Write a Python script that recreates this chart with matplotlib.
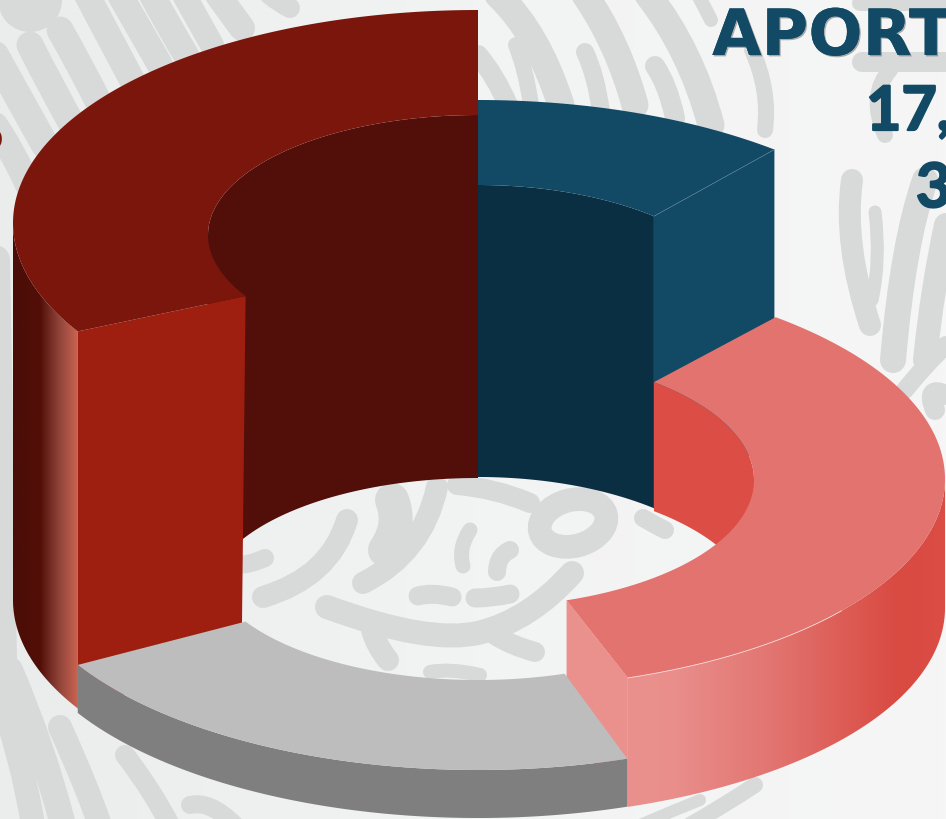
"""3D style doughnut with stepped slices, drawn with plain patches."""

import numpy as np
import matplotlib
matplotlib.use("Agg")
import matplotlib.pyplot as plt
from matplotlib.colors import LinearSegmentedColormap
from matplotlib.patches import Circle, Ellipse, PathPatch, Polygon
from matplotlib.path import Path
import matplotlib.patheffects as pe

# slice shares in %, clockwise from 12 o'clock
slice_names = ["azul", "rosa", "gris", "rojo"]
slice_shares = [11.0, 33.8, 21.7, 33.5]

# decorative watermark behind the chart: (width, points)
watermark = [
    # top left stripes
    (27, [(60, 30), (80, 65), (100, 105)]),
    (27, [(30, 45), (50, 85), (78, 135)]),
    (26, [(87, -5), (108, 35), (132, 80)]),
    (26, [(120, -5), (140, 30), (160, 65)]),
    (26, [(152, -5), (168, 25), (186, 55)]),
    (24, [(184, -5), (198, 20), (212, 45)]),
    (26, [(218, -5), (230, 12), (242, 28)]),
    (28, [(-5, 55), (20, 100), (45, 145)]),
    (26, [(-5, 125), (12, 150), (28, 185)]),
    (20, [(270, -5), (280, 3), (290, 8)]),
    # top middle
    (27, [(498, -5), (538, 33), (561, 105)]),
    (27, [(585, -5), (618, 43), (635, 105)]),
    (27, [(648, -5), (691, 50), (711, 125)]),
    (16, [(516, 45), (526, 70), (531, 105)]),
    (18, [(585, 52), (596, 75), (601, 112)]),
    (20, [(655, 66), (668, 85), (675, 118)]),
    (20, [(478, 55), (495, 75), (508, 105)]),
    (14, [(698, -5), (705, 8), (711, 20)]),
    (16, [(752, 50), (770, 90), (765, 130)]),
    # top right
    (20, [(862, 62), (900, 62), (946, 62)]),
    (16, [(860, 3), (900, 3), (946, 3)]),
    (16, [(890, 70), (868, 95), (885, 135)]),
    (22, [(852, 180), (843, 243), (870, 325)]),
    (13, [(875, 212), (881, 260), (872, 300)]),
    (26, [(925, 180), (903, 243), (893, 360)]),
    (24, [(946, 225), (932, 290), (925, 360)]),
    (18, [(946, 345), (925, 365), (905, 390)]),
    (20, [(946, 395), (925, 385), (935, 410)]),
    # left strip and bottom left
    (30, [(-5, 260), (-2, 420), (2, 660)]),
    (26, [(10, 670), (43, 747), (63, 825)]),
    (24, [(60, 727), (87, 787), (100, 825)]),
    (24, [(-5, 680), (23, 760), (33, 825)]),
    (20, [(125, 755), (152, 790), (170, 825)]),
    (18, [(190, 805), (210, 800), (235, 825)]),
    # bottom right
    (16, [(690, 825), (725, 805), (755, 785)]),
    (12, [(640, 825), (670, 812), (700, 800)]),
    # inside the hole
    (22, [(347, 520), (330, 577), (263, 597)]),
    (34, [(392, 500), (402, 525), (385, 550)]),
    (22, [(437, 487), (423, 553), (363, 583)]),
    (15, [(470, 530), (458, 548), (463, 566)]),
    (18, [(510, 550), (497, 556), (497, 572)]),
    (19, [(418, 596), (432, 592), (452, 597)]),
    (19, [(475, 598), (492, 598), (510, 594)]),
    (24, [(327, 607), (430, 645), (530, 620), (572, 573)]),
    (22, [(372, 630), (376, 645), (388, 660)]),
    (20, [(495, 635), (510, 645), (535, 652)]),
    (20, [(457, 485), (495, 488), (530, 503)]),
    (18, [(643, 518), (655, 525), (665, 530)]),
    (18, [(236, 565), (250, 565), (265, 558)]),
    (14, [(430, 672), (450, 668), (480, 675)]),
]
ring_center = (573, 523)
corner_disc = (30, 0, 32)

CX = 478
FIG_W, FIG_H = 946, 819


def smooth_path(points):
    """Quadratic curve through the midpoints of the given points."""
    pts = np.array(points, dtype=float)
    verts = [pts[0]]
    codes = [Path.MOVETO]
    for i in range(1, len(pts) - 1):
        end = pts[-1] if i == len(pts) - 2 else (pts[i] + pts[i + 1]) / 2
        verts += [pts[i], end]
        codes += [Path.CURVE3, Path.CURVE3]
    return Path(verts, codes)


def arc(t0, t1, rx, ry, cy, dy=0.0, n=120):
    t = np.radians(np.linspace(t0, t1, n))
    return np.column_stack([CX + rx * np.cos(t), cy - ry * np.sin(t) + dy])


def point(t, rx, ry, cy):
    return arc(t, t, rx, ry, cy, n=1)[0]


def gradient_fill(ax, poly, x0, x1, stops, zorder):
    cmap = LinearSegmentedColormap.from_list("g", stops)
    grad = np.linspace(0, 1, 256).reshape(1, -1)
    patch = Polygon(poly, closed=True, fc="none", ec="none", zorder=zorder)
    ax.add_patch(patch)
    im = ax.imshow(grad, cmap=cmap, extent=(x0, x1, FIG_H, 0), aspect="auto", zorder=zorder)
    im.set_clip_path(patch)


# slice angles come straight from the shares
edges = 90 - np.cumsum([0] + slice_shares) * 3.6
angles = {name: (edges[i], edges[i + 1]) for i, name in enumerate(slice_names)}

# look of each slice: outer/inner ellipse, height of the walls
blue = dict(rx=465, ry=216, cy=316, irx=276, iry=136, icy=321, h=292)
pink = dict(rx=467, ry=210, cy=479, irx=276, iry=127, icy=480, h=129)
gray = dict(rx=465, ry=214, cy=556, irx=270, iry=119, icy=561, h=48)
red = dict(rx=465, ry=213, cy=223, irx=270, iry=120, icy=235, h=363, oh=377)

fig = plt.figure(figsize=(FIG_W / 100, FIG_H / 100), dpi=100, facecolor="#F2F3F3")
ax = fig.add_axes([0, 0, 1, 1])
ax.axis("off")

# paper
paper = [(0, FIG_H), (FIG_W, FIG_H), (FIG_W, 0), (0, 0)]
gradient_fill(ax, paper, 0, FIG_W, [(0, "#EBECEC"), (0.5, "#F2F3F3"), (1, "#F6F6F6")], 0)

# watermark
pat = "#D8D9D9"
for width, pts in watermark:
    ax.add_patch(PathPatch(smooth_path(pts), fc="none", ec=pat, lw=width * 0.72,
                           capstyle="round", joinstyle="round", zorder=1))
ax.add_patch(Ellipse(ring_center, 68, 46, angle=-15, fc="none", ec=pat, lw=17, zorder=1))
ax.add_patch(Circle(corner_disc[:2], corner_disc[2], fc=pat, ec="none", zorder=1))

# title fragments, cut off by the crop
navy = "#124A66"
shadow = [pe.withSimplePatchShadow(offset=(1, -1), shadow_rgbFace="k", alpha=0.3), pe.Normal()]
ax.text(712, 55, "APORT", color=navy, fontsize=46, family="DejaVu Sans", weight="bold",
        ha="left", va="baseline", path_effects=shadow, zorder=2)
heavy = [pe.Stroke(linewidth=1.6, foreground=navy), pe.Normal()]
for txt, x, y in [("17,", 866, 130), ("3", 916, 207)]:
    ax.text(x, y, txt, color=navy, fontsize=44, family="Lato", weight="bold",
            ha="left", va="baseline", path_effects=heavy, zorder=2)
ax.text(3, 148, "%", color="#7A160C", fontsize=40, family="DejaVu Sans", weight="bold",
        ha="right", va="baseline", zorder=2)

# blue slice
a0, a1 = angles["azul"]
p = blue
top_in = arc(a1, a0, p["irx"], p["iry"], p["icy"])
top_out = arc(a0, a1, p["rx"], p["ry"], p["cy"])
ax.add_patch(Polygon(np.vstack([top_in, arc(a0, a1, p["irx"], p["iry"], p["icy"], p["h"])]),
                     fc="#0B2F42", ec="none", zorder=3))
end_in = top_in[0]
end_out = top_out[-1]
ax.add_patch(Polygon([end_in, end_out, end_out + [0, p["h"]], end_in + [0, p["h"]]],
                     fc=navy, ec="none", zorder=3))
ax.add_patch(Polygon(np.vstack([top_out, top_in]), fc=navy, ec="none", zorder=4))
ax.plot([end_in[0], end_out[0]], [end_in[1], end_out[1]], color="#5B8296", lw=0.4, zorder=4)

# red slice
a0, a1 = angles["rojo"]
p = red
top_out = arc(a0, a1, p["rx"], p["ry"], p["cy"])
top_in = arc(a1, a0, p["irx"], p["iry"], p["icy"])
back_top = arc(a1, -180, p["irx"], p["iry"], p["icy"])
back_low = arc(-180, a1, p["irx"], p["iry"], p["icy"], p["h"])
ax.add_patch(Polygon(np.vstack([back_top, back_low]), fc="#520F0A", ec="none", zorder=5))
front = arc(a0, -180, p["rx"], p["ry"], p["cy"])
wall = np.vstack([front, (front + [0, p["oh"]])[::-1]])
gradient_fill(ax, wall, front[-1, 0], front[0, 0],
              [(0, "#4A0D07"), (0.42, "#520F07"), (0.7, "#8E4238"), (1, "#CB6453")], 5)
in_cut = point(a0, p["irx"], p["iry"], p["icy"])
out_cut = point(a0, p["rx"], p["ry"], p["cy"])
ax.add_patch(Polygon([in_cut, out_cut, out_cut + [0, p["oh"]], in_cut + [-4, p["h"]]],
                     fc="#9E1F10", ec="none", zorder=6))
ax.add_patch(Polygon(np.vstack([top_out, top_in]), fc="#7A160C", ec="none", zorder=7))

# pink slice, its end face sits behind the gray slice
a0, a1 = angles["rosa"]
p = pink
top_out = arc(a0, a1, p["rx"], p["ry"], p["cy"])
top_in = arc(a1, a0, p["irx"], p["iry"], p["icy"])
back_top = arc(a0, 0, p["irx"], p["iry"], p["icy"])
back_low = arc(0, a0, p["irx"], p["iry"], p["icy"], p["h"])
ax.add_patch(Polygon(np.vstack([back_top, back_low]), fc="#DB4D45", ec="none", zorder=7.5))
cut_in = top_in[0]
cut_out = top_out[-1]
ax.add_patch(Polygon([cut_in, cut_out, cut_out + [0, p["h"]], cut_in + [0, p["h"]]],
                     fc="#EA918E", ec="none", zorder=7.5))
front = arc(a1, 0, p["rx"], p["ry"], p["cy"])
wall = np.vstack([front, (front + [0, p["h"]])[::-1]])
gradient_fill(ax, wall, front[0, 0], front[-1, 0],
              [(0, "#EA918E"), (0.15, "#E98E8B"), (0.45, "#E27571"), (0.85, "#D94A41"), (1, "#DB4D45")], 11)
ax.add_patch(Polygon(np.vstack([top_out, top_in]), fc="#E2736E", ec="none", zorder=12))
ax.plot(front[:55, 0], front[:55, 1], color="#F7D9D7", lw=0.6, zorder=13)

# gray slice
a0, a1 = angles["gris"]
p = gray
top_out = arc(a0, a1, p["rx"], p["ry"], p["cy"])
top_in = arc(a1, a0, p["irx"], p["iry"], p["icy"])
ax.add_patch(Polygon(np.vstack([top_out + [0, p["h"]], top_out[::-1]]), fc="#7F7F7F", ec="none", zorder=8))
ax.add_patch(Polygon(np.vstack([top_out, top_in]), fc="#BDBDBD", ec="none", zorder=9))

ax.set_xlim(0, FIG_W)
ax.set_ylim(FIG_H, 0)
fig.savefig("out.png", dpi=100)
